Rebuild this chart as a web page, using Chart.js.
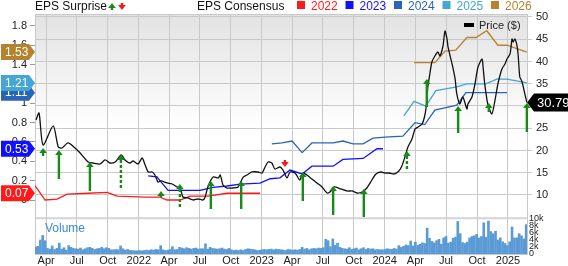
<!DOCTYPE html>
<html><head><meta charset="utf-8">
<script src="https://cdn.jsdelivr.net/npm/chart.js@4.4.1/dist/chart.umd.min.js"></script>
<style>
html,body{margin:0;padding:0;background:#fff;}
#wrap{position:relative;width:568px;height:266px;}
</style></head><body>
<div id="wrap"><canvas id="c"></canvas></div>
<script>
const FONT = '"Liberation Sans", Arial, Helvetica, sans-serif';
const t = s => Date.parse(s + 'T00:00:00Z');
const DAY = 86400000;

// axes
const X_MIN = '2021-02-27', X_MAX = '2025-02-26';
const xTickDates = ['2021-04-01','2021-07-01','2021-10-01','2022-01-01','2022-04-01','2022-07-01','2022-10-01','2023-01-01',
  '2023-04-01','2023-07-01','2023-10-01','2024-01-01','2024-04-01','2024-07-01','2024-10-01','2025-01-01'];
const xTickLabels = ['Apr','Jul','Oct','2022','Apr','Jul','Oct','2023','Apr','Jul','Oct','2024','Apr','Jul','Oct','2025'];
const priceTicks = [10,15,20,25,30,35,40,45,50];
const epsTicks = [0,0.2,0.4,0.6,0.8,1,1.2,1.4,1.6,1.8];
const volTicks = [0,2,4,6,8,10];
const volTickLabels = ['0','2k','4k','6k','8k','10k'];

// price ($)
const priceDates = ['2021-03-02','2021-03-11','2021-03-23','2021-04-22','2021-05-07','2021-05-18','2021-06-05','2021-06-26','2021-07-11',
  '2021-08-04','2021-08-18','2021-09-08','2021-09-23','2021-10-08','2021-10-23','2021-11-10','2021-11-21','2021-12-06','2021-12-15',
  '2021-12-30','2022-01-11','2022-01-20','2022-01-29','2022-02-10','2022-02-18','2022-02-27','2022-03-08','2022-03-26','2022-04-10',
  '2022-04-25','2022-05-04','2022-05-12','2022-05-27','2022-06-11','2022-06-26','2022-07-11','2022-07-17','2022-07-26','2022-08-10',
  '2022-08-25','2022-08-31','2022-09-08','2022-09-20','2022-10-08','2022-10-23','2022-11-07','2022-11-18','2022-12-03','2022-12-21',
  '2023-01-02','2023-01-11','2023-01-20','2023-01-31','2023-02-09','2023-02-24','2023-03-05','2023-03-17','2023-03-26','2023-04-10',
  '2023-04-24','2023-05-03','2023-05-15','2023-05-30','2023-06-14','2023-06-29','2023-07-14','2023-07-26','2023-08-04','2023-08-24',
  '2023-09-11','2023-09-26','2023-10-11','2023-10-26','2023-11-09','2023-11-24','2023-12-06','2023-12-21','2024-01-02','2024-01-14',
  '2024-01-29','2024-02-12','2024-02-21','2024-03-01','2024-03-10','2024-03-22','2024-03-31','2024-04-09','2024-04-21','2024-04-30',
  '2024-05-05','2024-05-08','2024-05-14','2024-05-20','2024-05-29','2024-06-07','2024-06-13','2024-06-22','2024-06-28','2024-07-04',
  '2024-07-07','2024-07-19','2024-07-28','2024-08-02','2024-08-11','2024-08-20','2024-09-01','2024-09-04','2024-09-16','2024-09-25',
  '2024-10-04','2024-10-16','2024-10-19','2024-10-24','2024-11-02','2024-11-14','2024-11-23','2024-12-02','2024-12-14','2024-12-23',
  '2024-12-29','2025-01-07','2025-01-13','2025-01-16','2025-01-22','2025-01-30','2025-02-05','2025-02-11','2025-02-20','2025-02-26'];
const priceValues = [26.85,28.43,21.24,25.51,20.79,20.56,21.69,20.56,19.44,
  17.42,17.19,16.97,17.87,17.19,17.42,18.99,17.87,17.19,17.64,
  16.97,18.31,16.74,15.17,15.17,14.49,12.92,13.15,12.70,12.47,
  11.80,11.57,9.55,9.33,8.88,9.10,8.88,9.55,12.02,14.04,
  13.82,14.49,12.25,11.57,11.57,11.80,14.04,14.49,15.17,15.17,
  14.94,16.29,17.42,17.19,15.84,16.29,15.62,13.82,15.17,14.94,
  13.37,14.94,14.49,13.60,12.70,11.80,10.45,10.90,11.80,11.35,
  10.90,10.90,10.45,10.67,11.57,13.37,14.72,15.17,14.94,14.94,
  14.72,15.39,16.52,18.54,20.79,22.58,24.83,25.28,25.96,28.20,
  31.12,34.27,37.19,39.89,41.24,42.13,41.24,43.48,46.85,45.06,
  43.26,39.44,36.07,32.70,30.45,32.02,29.33,30.45,32.02,34.94,
  38.76,40.56,38.76,34.94,30.45,28.20,31.12,34.94,38.31,39.44,
  40.56,41.69,45.06,44.38,45.06,42.36,36.52,35.62,32.70,30.79];

// EPS consensus by fiscal year
const eps2022Dates = ['2021-02-27','2021-03-29','2021-05-04','2021-06-02','2021-08-04','2021-09-29','2021-10-29','2022-01-20','2022-03-05',
  '2022-03-26','2022-05-04','2022-06-02','2022-07-26','2022-09-20','2022-12-27'];
const eps2022Values = [0.15,0.0,0.01,0.06,0.07,0.08,0.04,0.03,0.03,0.0,0.0,0.04,0.04,0.07,0.07];
const eps2023Dates = ['2022-01-29','2022-02-24','2022-03-05','2022-03-29','2022-05-10','2022-07-02','2022-08-09','2022-09-20','2022-10-29',
  '2022-12-27','2023-01-26','2023-02-24','2023-03-26','2023-05-01','2023-05-30','2023-08-01','2023-08-30','2023-10-29','2023-12-09','2023-12-27'];
const eps2023Values = [0.25,0.24,0.20,0.10,0.10,0.10,0.13,0.145,0.165,0.175,0.22,0.23,0.31,0.27,0.35,0.35,0.42,0.43,0.53,0.53];
const eps2024Dates = ['2023-01-31','2023-03-02','2023-04-01','2023-05-01','2023-05-30','2023-08-01','2023-08-30','2023-09-29','2023-10-29',
  '2023-11-27','2024-01-02','2024-02-24','2024-03-31','2024-04-29','2024-05-29','2024-08-02','2024-08-29','2024-12-29'];
const eps2024Values = [0.58,0.59,0.61,0.49,0.59,0.59,0.61,0.58,0.58,0.64,0.65,0.66,0.80,0.78,0.93,0.98,1.11,1.11];
const eps2025Dates = ['2024-02-27','2024-03-28','2024-05-02','2024-06-01','2024-08-02','2024-09-01','2024-10-27','2024-11-29','2024-12-29','2025-02-26'];
const eps2025Values = [0.87,1.02,0.97,1.13,1.17,1.20,1.20,1.25,1.25,1.21];
const eps2026Dates = ['2024-03-28','2024-05-29','2024-06-28','2024-07-30','2024-09-01','2024-09-28','2024-10-30','2024-12-02','2024-12-29','2025-02-26'];
const eps2026Values = [1.42,1.42,1.54,1.55,1.68,1.68,1.75,1.60,1.60,1.53];

// EPS surprise arrows, drawn against the price scale
const surpriseDates = ['2021-03-23','2021-05-09','2021-08-09','2021-11-09','2022-03-08','2022-05-03','2022-08-03','2022-11-01','2023-03-11',
  '2023-05-03','2023-08-01','2023-10-31','2024-03-07','2024-05-05','2024-08-06','2024-11-05','2025-02-26'];
const surpriseHead = [20.56,20.11,17.42,18.99,10.90,12.47,13.15,13.15,16.29,15.17,12.02,11.35,19.89,36.07,30.00,30.67,30.67];
const surpriseTail = [18.76,13.60,10.90,11.12,9.55,6.85,6.85,6.85,17.87,8.65,5.51,5.06,15.84,29.78,23.93,28.65,24.16];
const surpriseKind = ['up','up','up','dash','up','dash','up','up','down','up','up','up','dash','up','up','up','up'];

// weekly volume (k), first bar week of 2021-03-01
const VOL_START = '2021-03-01';
const volValues = [2.0,2.2,4.0,5.3,3.8, 1.6,1.4,2.3,1.3,1.6,3.1,1.4,1.8,
  1.1,2.4,1.9,1.6,1.5,1.4,1.7,1.2,1.5,1.8,1.9,1.6,1.3,
  1.5,1.6,1.9,1.5,1.8,1.6,1.2,1.2,1.3,1.2,2.3,1.5,1.1,
  1.3,1.0,1.0,0.9,0.9,1.0,0.9,1.0,1.1,1.0,1.2,1.1,1.3,1.2,
  2.4,1.2,1.0,1.1,1.3,2.1,1.2,1.3,1.9,1.7,1.5,1.8,1.6,1.4,
  1.6,1.7,1.4,1.5,1.5,2.9,1.4,1.9,1.6,1.5,1.4,1.5,1.7,1.4,
  1.3,1.6,1.2,1.0,1.1,1.0,1.2,1.0,1.3,1.5,1.4,1.3,1.2,1.0,1.1,
  1.2,1.3,1.2,1.3,1.4,1.2,1.4,1.3,1.2,1.1,1.0,1.3,1.2,1.1,1.2,1.1,1.3,
  1.9,1.4,1.6,1.2,1.5,1.6,1.5,
  1.7,1.6,1.8,4.2,3.8,2.1,4.3,2.5,3.1,1.9,1.6,1.5,
  1.4,1.8,1.3,1.5,1.7,1.2,1.5,1.8,1.3,1.6,1.4,1.5,1.2,1.3,1.2,
  1.2,1.3,1.5,1.4,1.3,1.6,1.4,2.4,1.9,2.2,
  2.6,2.4,3.7,2.3,3.4,2.5,2.8,3.2,3.0,
  7.4,4.5,3.6,3.2,3.8,4.2,2.8,4.6,
  5.0,3.1,3.4,4.5,4.8,9.3,5.8,3.3,3.0,3.4,
  4.6,5.0,5.2,5.6,4.6,5.0,
  8.9,4.8,9.4,6.4,5.8,6.5,4.0,4.6,3.5,
  3.0,2.4,3.5,7.7,4.6,4.6,5.8,5.2,4.3,8.4];

const years = ['2022','2023','2024','2025','2026'];
const yearColors = ['#ff1a1a','#1010ff','#2a64b6','#45a6d6','#b5822e'];
const epsDates = [eps2022Dates,eps2023Dates,eps2024Dates,eps2025Dates,eps2026Dates];
const epsValues = [eps2022Values,eps2023Values,eps2024Values,eps2025Values,eps2026Values];

const GRID = '#c9c9c9';
const pts = (ds, vs) => ds.map((d,i) => ({x:t(d), y:vs[i]}));
const noPad = s => { s.paddingLeft = 0; s.paddingRight = 0; s.paddingTop = 0; s.paddingBottom = 0; };

function pentagon(ctx, x0, x1, tipX, y, h, color){
  const up = y - h/2, dn = y + h/2;
  ctx.beginPath();
  if(tipX > x1){ ctx.moveTo(x0,up); ctx.lineTo(x1,up); ctx.lineTo(tipX,y); ctx.lineTo(x1,dn); ctx.lineTo(x0,dn); }
  else { ctx.moveTo(tipX,y); ctx.lineTo(x0,up); ctx.lineTo(x1,up); ctx.lineTo(x1,dn); ctx.lineTo(x0,dn); }
  ctx.closePath(); ctx.fillStyle = color; ctx.fill();
}

function arrow(ctx, x, yHead, yTail, color, dashed){
  const dir = yTail > yHead ? 1 : -1;   // 1 = pointing up
  const hb = yHead + dir*5;
  ctx.save();
  ctx.strokeStyle = color; ctx.fillStyle = color; ctx.lineWidth = 2.4;
  if(dashed) ctx.setLineDash([3,2]);
  ctx.beginPath(); ctx.moveTo(x, hb); ctx.lineTo(x, yTail); ctx.stroke();
  ctx.setLineDash([]);
  ctx.beginPath(); ctx.moveTo(x, yHead); ctx.lineTo(x-3.8, hb); ctx.lineTo(x+3.8, hb); ctx.closePath(); ctx.fill();
  ctx.restore();
}

const panelPlugin = {
  id:'panel',
  beforeDraw(chart){
    const {ctx, chartArea:a, scales} = chart;
    const sep = scales.yPrice.getPixelForValue(5);
    ctx.save();
    const g = ctx.createLinearGradient(0, a.top, 0, a.top + 115);
    g.addColorStop(0, '#e2e2e2'); g.addColorStop(1, '#ffffff');
    ctx.fillStyle = g; ctx.fillRect(a.left, a.top, a.right-a.left, sep-a.top);
    ctx.fillStyle = '#d4d4d4'; ctx.fillRect(a.left, sep, a.right-a.left, 2);
    ctx.fillStyle = GRID; ctx.fillRect(a.left, a.top, a.right-a.left, 1);
    ctx.restore();
  },
  afterDatasetsDraw(chart){
    const {ctx, chartArea:a, scales} = chart;
    const {x, yPrice, yEps, yVol} = scales;
    ctx.save();
    // surprise arrows
    surpriseDates.forEach((d,i) => {
      const k = surpriseKind[i];
      arrow(ctx, x.getPixelForValue(t(d)), yPrice.getPixelForValue(surpriseHead[i]), yPrice.getPixelForValue(surpriseTail[i]),
        k === 'down' ? '#ee1c1c' : '#178a17', k === 'dash');
    });
    // latest consensus tags on the left
    ctx.font = '12px ' + FONT; ctx.textBaseline = 'middle'; ctx.textAlign = 'left';
    years.forEach((yr,i) => {
      const vals = epsValues[i], v = vals[vals.length-1];
      const y = yEps.getPixelForValue(v);
      pentagon(ctx, 1, a.left-6, a.left, y, 16, yearColors[i]);
      ctx.fillStyle = '#fff'; ctx.fillText(v.toFixed(2), 5, y+0.5);
    });
    // last price tag
    const lp = priceValues[priceValues.length-1], ly = yPrice.getPixelForValue(lp);
    pentagon(ctx, a.right+7, 568, a.right, ly, 18, '#000');
    ctx.fillStyle = '#fff'; ctx.font = '13px ' + FONT; ctx.fillText(lp.toFixed(2), a.right+10, ly+0.5);
    // volume scale labels
    ctx.font = '9px ' + FONT; ctx.fillStyle = '#222';
    volTicks.forEach((v,i) => {
      const y = yVol.getPixelForValue(v);
      ctx.fillText(volTickLabels[i], a.right+2, y);
    });
    ctx.fillStyle = '#3a8ad0'; ctx.font = '12px ' + FONT;
    ctx.fillText('Volume', a.left+10, 229);
    // price legend
    ctx.fillStyle = '#000'; ctx.fillRect(464, 23, 10, 4);
    ctx.font = '11px ' + FONT; ctx.fillStyle = '#222'; ctx.fillText('Price ($)', 479, 25.5);
    // top legend
    ctx.font = '12px ' + FONT; ctx.fillStyle = '#111';
    ctx.fillText('EPS Surprise', 35, 6.5);
    arrow(ctx, 112, 3, 10, '#178a17', false);
    arrow(ctx, 122, 10, 3, '#ee1c1c', false);
    ctx.fillStyle = '#111'; ctx.fillText('EPS Consensus', 197, 6.5);
    let lx = 297;
    years.forEach((yr,i) => {
      ctx.fillStyle = yearColors[i]; ctx.fillRect(lx, 1, 8, 8);
      ctx.fillText(yr, lx+14, 6.5);
      lx += 48.5;
    });
    ctx.restore();
  }
};

const datasets = [
  { type:'line', label:'Price', data:pts(priceDates, priceValues), yAxisID:'yPrice', borderColor:'#111', borderWidth:1.3,
    pointRadius:0, tension:0.25, order:0 }
];
years.forEach((yr,i) => datasets.push({ type:'line', label:yr, data:pts(epsDates[i], epsValues[i]), yAxisID:'yEps',
  borderColor:yearColors[i], borderWidth:1.3, pointRadius:0, tension:0, order:1 }));
datasets.push({ type:'bar', label:'Volume', data:volValues.map((v,i) => ({x:t(VOL_START)+i*7*DAY, y:v})), yAxisID:'yVol',
  backgroundColor:'#5b9bd5', barThickness:2, order:2 });

new Chart(document.getElementById('c'), {
  type:'line',
  data:{ datasets },
  options:{
    responsive:true, maintainAspectRatio:false, animation:false,
    layout:{ padding:{ top:14, left:0, right:0, bottom:0 } },
    plugins:{ legend:{ display:false }, tooltip:{ enabled:false } },
    scales:{
      x:{ type:'linear', offset:false, min:t(X_MIN), max:t(X_MAX)+DAY*0.4,
        afterBuildTicks:s => { s.ticks = xTickDates.map(d => ({value:t(d)})); },
        afterFit:s => { s.height = 12; noPad(s); },
        grid:{ color:GRID, drawTicks:false, offset:false }, border:{ color:GRID },
        ticks:{ autoSkip:false, maxRotation:0, padding:0, color:'#222', font:{ family:FONT, size:11 },
          callback:(v,i) => xTickLabels[i] } },
      yEps:{ type:'linear', position:'left', min:-0.558, max:1.923,
        afterBuildTicks:s => { s.ticks = epsTicks.map(v => ({value:v})); },
        afterFit:s => { s.width = 35; noPad(s); },
        grid:{ drawOnChartArea:false, color:'#999', tickLength:5 }, border:{ color:GRID },
        ticks:{ padding:3, color:'#222', font:{ family:FONT, size:11 }, callback:v => String(v) } },
      yPrice:{ type:'linear', position:'right', min:-3.26, max:50.67,
        afterBuildTicks:s => { s.ticks = priceTicks.map(v => ({value:v})); },
        afterFit:s => { s.width = 41; noPad(s); },
        grid:{ color:GRID, tickLength:5 }, border:{ color:GRID },
        ticks:{ padding:4, color:'#222', font:{ family:FONT, size:11 } } },
      yVol:{ type:'linear', position:'right', display:false, min:0, max:68.57 }
    }
  },
  plugins:[panelPlugin]
});
</script>
</body></html>
